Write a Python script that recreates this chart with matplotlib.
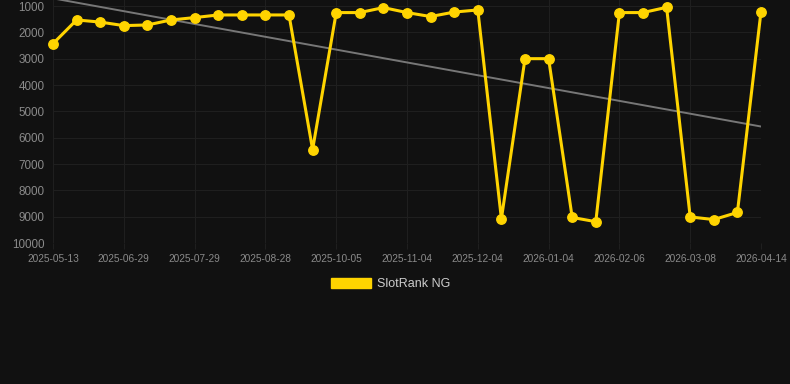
#!/usr/bin/env python3
import numpy as np
import matplotlib
matplotlib.use("Agg")
import matplotlib.pyplot as plt
from matplotlib.patches import Patch

# dates shown as tick labels (every third point carries a label)
TICK_LABELS = ["2025-05-13", "2025-06-29", "2025-07-29", "2025-08-28", "2025-10-05",
               "2025-11-04", "2025-12-04", "2026-01-04", "2026-02-06", "2026-03-08",
               "2026-04-14"]
LABEL_EVERY = 3

# rank values (lower is better)
RANKS = [2430, 1530, 1610, 1745, 1720, 1530, 1440, 1340, 1340, 1340, 1340,
         6450, 1250, 1250, 1060, 1250, 1400, 1230, 1150, 9080, 3000, 3000,
         9030, 9190, 1250, 1250, 1050, 9010, 9110, 8840, 1215]

SERIES_NAME = "SlotRank NG"
BG = "#111111"
YELLOW = "#FFD400"

plt.rcParams["font.family"] = ["Liberation Sans", "DejaVu Sans"]

def main():
    xs = np.arange(len(RANKS))
    ys = np.array(RANKS, dtype=float)

    fig = plt.figure(figsize=(7.9, 3.84), dpi=100, facecolor=BG)
    ax = fig.add_axes([53 / 790, 1 - 243 / 384, (761 - 53) / 790, 243 / 384])
    ax.set_facecolor(BG)

    # trend line (least squares fit)
    k, b = np.polyfit(xs, ys, 1)
    ax.plot(xs, k * xs + b, color="#777777", lw=1.4, zorder=2, clip_on=True)

    ax.plot(xs, ys, color=YELLOW, lw=2.2, marker="o", markersize=6.8,
            zorder=3, clip_on=False)

    ax.set_xlim(0, len(RANKS) - 1)
    ax.set_ylim(10000, 772)
    ax.set_yticks(np.arange(1000, 10001, 1000))
    ax.set_yticklabels([str(v) for v in range(1000, 10001, 1000)])
    tick_pos = xs[::LABEL_EVERY]
    ax.set_xticks(tick_pos)
    ax.set_xticklabels(TICK_LABELS)

    ax.grid(True, color="#1f1f1f", lw=0.8)
    ax.set_axisbelow(True)
    for s in ax.spines.values():
        s.set_visible(False)
    ax.tick_params(axis="y", length=0, pad=6, labelsize=8.4, labelcolor="#8a8a8a")
    ax.tick_params(axis="x", length=4, color="#1f1f1f", pad=4, labelsize=7.3,
                   labelcolor="#8a8a8a")

    handle = Patch(facecolor=YELLOW, edgecolor=YELLOW)
    fig.legend([handle], [SERIES_NAME], loc="center", bbox_to_anchor=(0.494, 1 - 284 / 384),
               frameon=False, fontsize=9, labelcolor="#cccccc",
               handlelength=3.2, handleheight=0.95, handletextpad=0.5)

    fig.savefig("out.png", dpi=100, facecolor=BG)

if __name__ == "__main__":
    main()
